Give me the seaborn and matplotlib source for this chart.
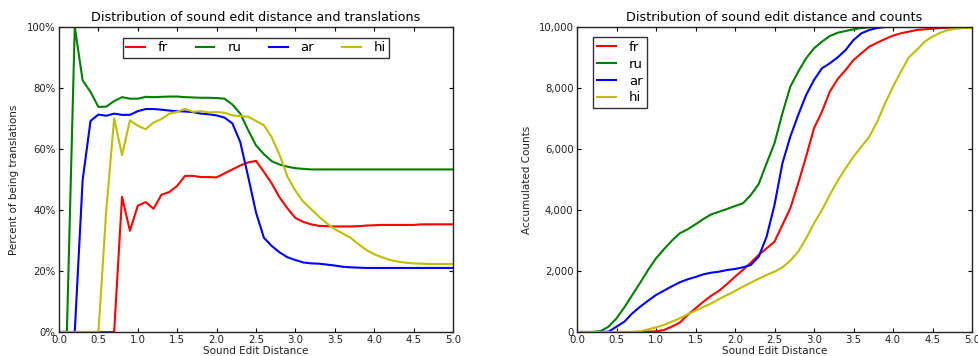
import numpy as np
import pandas as pd
import matplotlib
matplotlib.use("Agg")
import matplotlib.pyplot as plt
import matplotlib.ticker as mticker
import seaborn as sns

distance = [round(0.1 * i, 1) for i in range(51)]

pct_fr = [0, 0, 0, 0, 0, 0, 0, 0, 44.3, 33.2, 41.4, 42.6, 40.4, 45.0, 45.9, 47.9, 51.2, 51.2, 50.8, 50.8,
          50.7, 52.0, 53.3, 54.6, 55.6, 56.1, 52.5, 48.7, 44.1, 40.5, 37.4, 36.1, 35.3, 34.8, 34.7, 34.6,
          34.6, 34.6, 34.7, 34.9, 35.0, 35.1, 35.1, 35.1, 35.1, 35.1, 35.3, 35.3, 35.3, 35.3, 35.3]
pct_ru = [0, 0, 100, 82.5, 78.7, 73.8, 73.9, 75.7, 77.0, 76.5, 76.5, 77.1, 77.0, 77.1, 77.2, 77.2, 77.0,
          76.9, 76.8, 76.8, 76.7, 76.5, 74.6, 71.6, 66.2, 61.2, 58.3, 56.0, 54.9, 54.2, 53.7, 53.5, 53.3,
          53.3, 53.3, 53.3, 53.3, 53.3, 53.3, 53.3, 53.3, 53.3, 53.3, 53.3, 53.3, 53.3, 53.3, 53.3, 53.3, 53.3, 53.3]
pct_ar = [0, 0, 0, 49.8, 69.2, 71.3, 70.9, 71.6, 71.2, 71.2, 72.4, 73.1, 73.1, 72.9, 72.6, 72.4, 72.3,
          72.1, 71.6, 71.4, 71.0, 70.3, 68.4, 62.3, 51.0, 39.2, 30.9, 28.2, 26.1, 24.5, 23.6, 22.8, 22.5,
          22.4, 22.1, 21.8, 21.4, 21.2, 21.1, 21.0, 21.0, 21.0, 21.0, 21.0, 21.0, 21.0, 21.0, 21.0, 21.0, 21.0, 21.0]
pct_hi = [0, 0, 0, 0, 0, 0, 40.0, 70.0, 58.0, 69.4, 67.6, 66.5, 68.7, 69.8, 71.6, 72.2, 73.2, 72.2, 72.4,
          72.0, 72.1, 71.9, 71.0, 70.8, 70.6, 69.2, 67.8, 63.8, 58.0, 50.9, 46.3, 42.7, 40.3, 37.8, 35.6,
          33.7, 32.3, 30.9, 28.8, 26.9, 25.5, 24.5, 23.6, 23.1, 22.7, 22.5, 22.4, 22.3, 22.3, 22.3, 22.3]

cnt_fr = [0, 0, 0, 0, 0, 0, 0, 0, 5, 15, 20, 65, 175, 306, 557, 776, 994, 1191, 1355, 1574, 1814, 2033,
          2273, 2525, 2743, 2962, 3508, 4055, 4874, 5750, 6678, 7223, 7879, 8295, 8590, 8918, 9137, 9355,
          9486, 9607, 9716, 9793, 9847, 9902, 9924, 9945, 9967, 9978, 9989, 9995, 10000]
cnt_ru = [0, 0, 0, 30, 175, 448, 810, 1213, 1617, 2033, 2415, 2710, 2994, 3235, 3366, 3530, 3705, 3858,
          3945, 4033, 4131, 4219, 4492, 4852, 5530, 6186, 7170, 8043, 8535, 8973, 9300, 9518, 9705, 9813,
          9869, 9924, 9967, 9989, 10000, 10000, 10000, 10000, 10000, 10000, 10000, 10000, 10000, 10000,
          10000, 10000, 10000]
cnt_ar = [0, 0, 0, 0, 10, 175, 339, 612, 830, 1027, 1213, 1355, 1497, 1628, 1727, 1803, 1891, 1945, 1978,
          2033, 2066, 2120, 2197, 2470, 3125, 4164, 5530, 6404, 7115, 7770, 8262, 8645, 8809, 9005, 9246,
          9574, 9793, 9902, 9967, 10000, 10000, 10000, 10000, 10000, 10000, 10000, 10000, 10000, 10000,
          10000, 10000]
cnt_hi = [0, 0, 0, 0, 0, 0, 0, 5, 20, 87, 153, 230, 339, 448, 579, 699, 820, 940, 1082, 1213, 1344, 1486,
          1617, 1748, 1869, 1978, 2120, 2339, 2633, 3071, 3563, 4000, 4492, 4962, 5366, 5748, 6077, 6404,
          6896, 7498, 8043, 8535, 9005, 9246, 9518, 9683, 9813, 9902, 9945, 9967, 9967]

languages = ["fr", "ru", "ar", "hi"]
colors = {"fr": (1.0, 0.0, 0.0), "ru": (0.0, 0.5, 0.0), "ar": (0.0, 0.0, 1.0), "hi": (0.75, 0.75, 0.0)}

pct = {"fr": pct_fr, "ru": pct_ru, "ar": pct_ar, "hi": pct_hi}
cnt = {"fr": cnt_fr, "ru": cnt_ru, "ar": cnt_ar, "hi": cnt_hi}

def long_df(d):
    rows = []
    for lang in languages:
        for x, v in zip(distance, d[lang]):
            rows.append({"distance": x, "value": v, "lang": lang})
    return pd.DataFrame(rows)

df_pct = long_df(pct)
df_cnt = long_df(cnt)

plt.rcParams["font.family"] = ["DejaVu Sans"]
plt.rcParams["xtick.direction"] = "in"
plt.rcParams["ytick.direction"] = "in"

FS_TICK = 7.3
FS_LABEL = 7.5
FS_TITLE = 9.2
FS_LEG = 9.5

fig = plt.figure(figsize=(9.79, 3.56), dpi=100)
ax1 = fig.add_axes([59 / 979, 1 - 332 / 356, (453 - 59) / 979, (332 - 27) / 356])
ax2 = fig.add_axes([577 / 979, 1 - 332 / 356, (972 - 577) / 979, (332 - 27) / 356])

for ax, df in ((ax1, df_pct), (ax2, df_cnt)):
    sns.lineplot(data=df, x="distance", y="value", hue="lang", hue_order=languages,
                 palette=colors, linewidth=1.5, ax=ax, legend=True)
    ax.set_xlim(0, 5)
    ax.set_xticks(np.arange(0, 5.01, 0.5))
    ax.xaxis.set_major_formatter(mticker.FormatStrFormatter("%.1f"))
    ax.tick_params(axis="both", which="both", direction="in", top=True, right=True,
                   labelsize=FS_TICK, length=3, width=0.8, colors="black", pad=2.5)
    ax.tick_params(axis="both", labelcolor="#222222")
    ax.set_facecolor("white")
    for s in ax.spines.values():
        s.set_color("#222222")
        s.set_linewidth(1.0)
    ax.set_xlabel("Sound Edit Distance", fontsize=FS_LABEL, labelpad=0.5, color="#222222")
    ax.grid(False)

ax1.set_ylim(0, 100)
ax1.set_yticks(np.arange(0, 101, 20))
ax1.yaxis.set_major_formatter(mticker.FuncFormatter(lambda v, p: f"{int(v)}%"))
ax1.set_ylabel("Percent of being translations", fontsize=FS_LABEL, labelpad=5.5, color="#222222")
ax1.set_title("Distribution of sound edit distance and translations", fontsize=FS_TITLE, pad=4)

ax2.set_ylim(0, 10000)
ax2.set_yticks(np.arange(0, 10001, 2000))
ax2.yaxis.set_major_formatter(mticker.FuncFormatter(lambda v, p: f"{int(v):,}"))
ax2.set_ylabel("Accumulated Counts", fontsize=FS_LABEL, labelpad=4.5, color="#222222")
ax2.set_title("Distribution of sound edit distance and counts", fontsize=FS_TITLE, pad=4)

h, l = ax1.get_legend_handles_labels()
leg1 = ax1.legend(h, l, loc="upper center", ncol=4, fontsize=FS_LEG, frameon=True, fancybox=False,
                  edgecolor="#333333", framealpha=1, handlelength=1.4, columnspacing=2.1,
                  borderpad=0.25, handletextpad=1.0, bbox_to_anchor=(0.5, 0.985))
leg1.get_frame().set_linewidth(1.0)
h, l = ax2.get_legend_handles_labels()
leg2 = ax2.legend(h, l, loc="upper left", ncol=1, fontsize=FS_LEG, frameon=True, fancybox=False,
                  edgecolor="#333333", framealpha=1, handlelength=1.4, borderpad=0.3,
                  labelspacing=0.3, handletextpad=1.0, bbox_to_anchor=(0.025, 0.99))
leg2.get_frame().set_linewidth(1.0)

fig.savefig("out.png", dpi=100, facecolor="white")
